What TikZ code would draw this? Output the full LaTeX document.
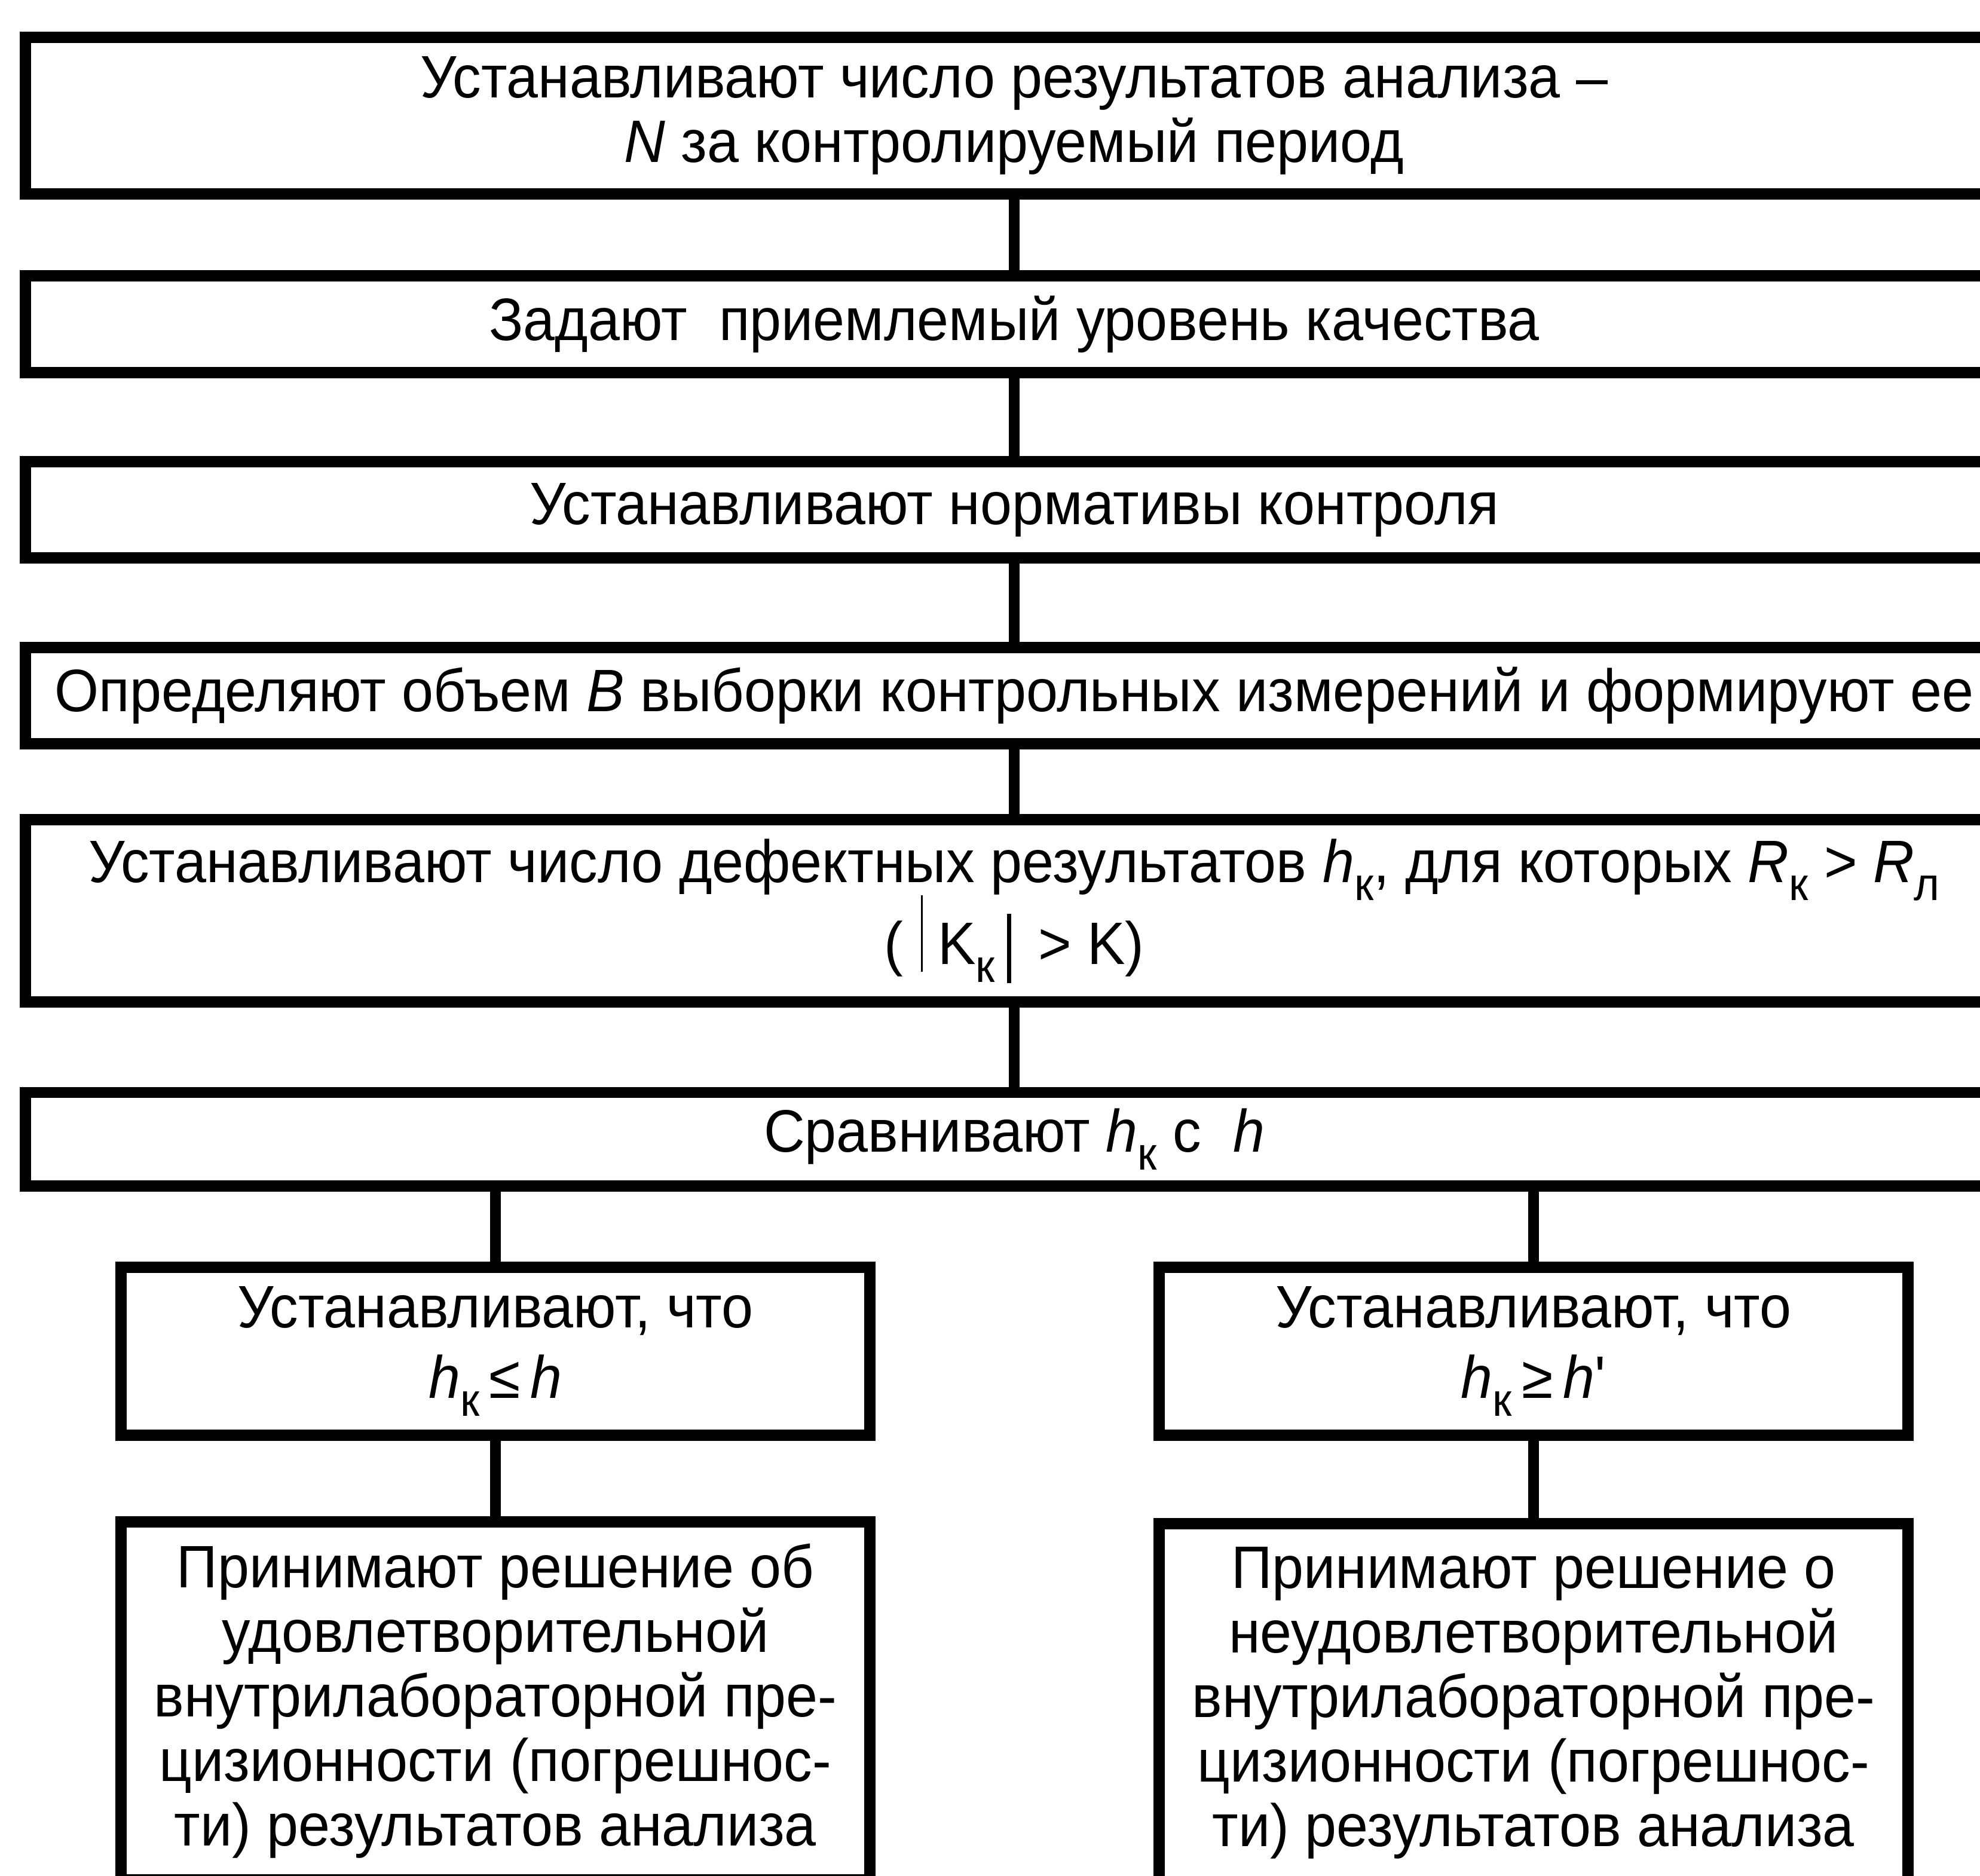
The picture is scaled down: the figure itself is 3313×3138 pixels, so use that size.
\documentclass[tikz,border=0pt]{standalone}
\usepackage{fontspec}
\setmainfont{Liberation Sans}[FakeStretch=0.95]
\usetikzlibrary{positioning}

\newcommand{\boxfont}{\fontsize{28.5pt}{30.7pt}\selectfont}
\newcommand{\lowsub}[1]{\raisebox{-0.3em}{\fontsize{22pt}{22pt}\selectfont #1}}
\newcommand{\hk}{\textit{h}\lowsub{к}}

\begin{document}
\begin{tikzpicture}
[x=0.01cm,y=-0.01cm,every node/.style={draw,line width=5.4pt,inner sep=0pt,align=center,font=\boxfont},
wide/.style={minimum width=33.07cm},
half/.style={minimum width=12.52cm}]

\useasboundingbox (0,0) rectangle (3313,3138);

\node[wide,minimum height=2.62cm] (b1) at (1697,193.5) {Устанавливают число результатов анализа –\\\textit{N} за контролируемый период};
\node[wide,minimum height=1.62cm] (b2) at (1697,542.5) {Задают\ \ приемлемый уровень качества};
\node[wide,minimum height=1.60cm] (b3) at (1697,853) {Устанавливают нормативы контроля};
\node[wide,minimum height=1.60cm] (b4) at (1697,1164) {Определяют объем \textit{B} выборки контрольных измерений и формируют ее};
\node[wide,minimum height=3.04cm] (b5) at (1697,1524) {Устанавливают число дефектных результатов \hk, для которых \textit{R}\lowsub{к} > \textit{R}\lowsub{л}\\[-0.12cm]
  (\hspace{0.3em}\rule[-0.12em]{0.03em}{1.27em}\hspace{0.25em}K\lowsub{к}\hspace{0.2em}\rule[-0.31em]{0.07em}{1.15em}\hspace{0.45em}> K)};
\node[wide,minimum height=1.56cm] (b6) at (1697,1906) {Сравнивают \hk\ с\ \ \textit{h}};

\node[half,minimum height=2.81cm] (l1) at (829,2261) {Устанавливают, что\\[0.1cm]\hk\,≤\,\textit{h}};
\node[half,minimum height=2.81cm] (r1) at (2566,2261) {Устанавливают, что\\[0.1cm]\hk\,≥\,\textit{h}\textquotesingle};

\node[half,minimum height=5.98cm] (l2) at (829,2846) {Принимают решение об\\удовлетворительной\\внутрилабораторной пре-\\цизионности (погрешнос-\\ти) результатов анализа};
\node[half,minimum height=5.98cm] (r2) at (2566,2849) {Принимают решение о\\неудовлетворительной\\внутрилабораторной пре-\\цизионности (погрешнос-\\ти) результатов анализа};

\draw[line width=5.1pt] (b1) -- (b2);
\draw[line width=5.1pt] (b2) -- (b3);
\draw[line width=5.1pt] (b3) -- (b4);
\draw[line width=5.1pt] (b4) -- (b5);
\draw[line width=5.1pt] (b5) -- (b6);

\draw[line width=5.1pt] (l1.north |- b6.south) -- (l1.north);
\draw[line width=5.1pt] (r1.north |- b6.south) -- (r1.north);
\draw[line width=5.1pt] (l1) -- (l2);
\draw[line width=5.1pt] (r1) -- (r2);

\end{tikzpicture}
\end{document}
